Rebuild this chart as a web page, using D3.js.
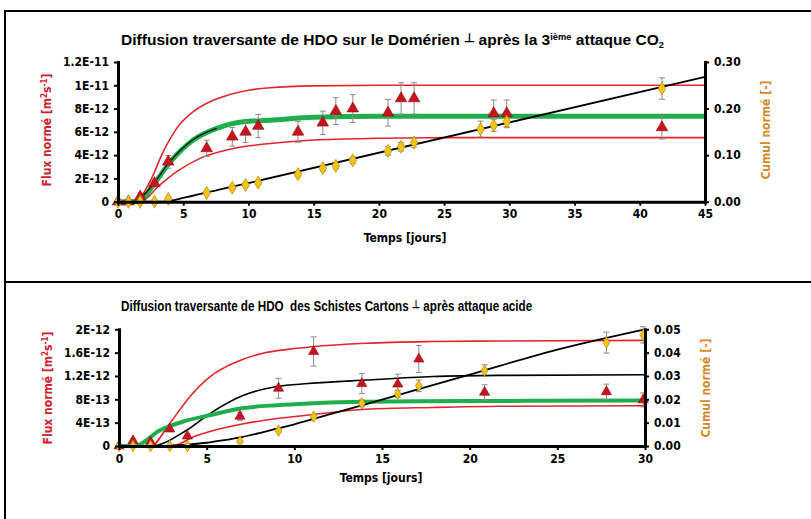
<!DOCTYPE html>
<html>
<head>
<meta charset="utf-8">
<script src="https://cdn.jsdelivr.net/npm/d3@7"></script>
<style>
body { margin: 0; background: #fff; }
svg text { font-family: 'Liberation Sans Narrow', 'DejaVu Sans Condensed', 'Arial Narrow', sans-serif; font-weight: bold; }
</style>
</head>
<body>
<script>
// ---- panel 1 : Domérien, 3e attaque CO2 (flux in units of 1E-12 m2/s) ----
var triDays1 = [0, 0.8, 1.7, 2.8, 3.85, 6.8, 8.76, 9.78, 10.75, 13.8, 15.7, 16.7, 18.0, 20.7, 21.7, 22.7, 28.8, 29.8, 41.7];
var flux1 = [0, 0, 0.43, 1.58, 3.43, 4.58, 5.58, 6.0, 6.5, 6.0, 6.78, 7.78, 8.0, 7.64, 8.87, 8.87, 7.59, 7.59, 6.38];
var fluxErr1 = [0, 0, 0.1, 0.3, 0.55, 0.7, 0.8, 0.9, 1.0, 0.9, 1.0, 1.15, 1.2, 1.15, 1.35, 1.35, 1.15, 1.15, 1.0];
var diaDays1 = [0, 0.8, 1.7, 2.8, 3.85, 6.8, 8.76, 9.78, 10.75, 13.8, 15.7, 16.7, 18.0, 20.7, 21.7, 22.7, 27.8, 28.8, 29.8, 41.7];
var cumul1 = [0, 0, 0, 0, 0.006, 0.019, 0.030, 0.036, 0.041, 0.059, 0.072, 0.077, 0.089, 0.109, 0.118, 0.127, 0.156, 0.164, 0.172, 0.243];
var cumulErr1 = [0, 0, 0, 0, 0.002, 0.003, 0.004, 0.004, 0.004, 0.005, 0.006, 0.006, 0.007, 0.009, 0.009, 0.01, 0.017, 0.013, 0.013, 0.023];

// model curves
var redHiDays1 = [0, 1.3, 2.45, 3.47, 4.5, 5.77, 7.05, 8.58, 10.1, 11.65, 15, 20, 30, 45];
var redHi1 = [0, 0, 1.72, 4.3, 6.3, 7.73, 8.58, 9.2, 9.59, 9.79, 9.95, 10.0, 10.0, 10.0];
var redLoDays1 = [0, 1.7, 3.2, 4.5, 6.28, 8.33, 10.1, 11.65, 15, 20, 25, 45];
var redLo1 = [0, 0, 1.43, 2.58, 3.72, 4.44, 4.8, 5.0, 5.3, 5.45, 5.5, 5.5];
var greenDays1 = [0, 1.55, 2.7, 3.98, 5.77, 7.56, 9.6, 11.65, 15, 20, 45];
var green1 = [0, 0, 1.43, 3.38, 5.3, 6.3, 6.87, 7.0, 7.25, 7.35, 7.35];
var blackFluxDays1 = [1.5, 2.7, 3.98, 5.77, 7.56];
var blackFlux1 = [0, 1.5, 3.45, 5.35, 6.3];
var blackCumDays1 = [0, 3, 4, 5, 6, 7, 8, 10, 45];
var blackCum1 = [0, 0, 0.002, 0.008, 0.0145, 0.021, 0.0275, 0.040, 0.268];

var xTicks1 = [0, 5, 10, 15, 20, 25, 30, 35, 40, 45];
var fluxTicks1 = [0, 2, 4, 6, 8, 10, 12];
var fluxLabels1 = ["0", "2E-12", "4E-12", "6E-12", "8E-12", "1E-11", "1.2E-11"];
var cumTicks1 = [0, 0.1, 0.2, 0.3];
var cumLabels1 = ["0.00", "0.10", "0.20", "0.30"];

// ---- panel 2 : Schistes Cartons, attaque acide ----
var triDays2 = [0, 0.8, 1.8, 2.9, 3.9, 6.9, 9.1, 11.1, 13.85, 15.9, 17.1, 20.85, 27.8, 29.9];
var flux2 = [0, 0.09, 0.07, 0.29, 0.17, 0.51, 0.99, 1.62, 1.07, 1.06, 1.49, 0.92, 0.93, 0.79];
var fluxErr2 = [0, 0.03, 0.03, 0.04, 0.04, 0.07, 0.17, 0.25, 0.17, 0.17, 0.23, 0.13, 0.13, 0.12];
var diaDays2 = [0, 0.8, 1.8, 2.9, 3.9, 6.9, 9.1, 11.1, 13.85, 15.9, 17.1, 20.85, 27.8, 29.9];
var cumul2 = [0, 0, 0, 0, 0, 0.0019, 0.0066, 0.0126, 0.0183, 0.0223, 0.0258, 0.0323, 0.0443, 0.0476];
var cumulErr2 = [0, 0, 0, 0, 0, 0.0003, 0.0006, 0.0008, 0.0015, 0.0015, 0.0025, 0.0025, 0.0045, 0.0035];

var redHiDays2 = [0, 1.8, 2.9, 4.05, 5.2, 6.7, 8.2, 9.75, 11, 14.1, 17.9, 21.7, 30];
var redHi2 = [0, 0, 0.39, 0.85, 1.19, 1.44, 1.59, 1.66, 1.70, 1.76, 1.79, 1.80, 1.81];
var redLoDays2 = [0, 2.5, 3.3, 4.25, 5.2, 7.1, 9.0, 10.8, 14.1, 17.9, 21.7, 30];
var redLo2 = [0, 0, 0.02, 0.16, 0.25, 0.38, 0.47, 0.53, 0.63, 0.66, 0.68, 0.69];
var greenDays2 = [0, 0.9, 2.34, 3.67, 5.2, 7.1, 9.0, 10.8, 14.1, 20, 30];
var green2 = [0, 0, 0.27, 0.42, 0.53, 0.65, 0.70, 0.73, 0.76, 0.77, 0.78];
var blackFluxDays2 = [0, 1.8, 3.85, 5.2, 7.1, 9.0, 10.8, 14.1, 17.9, 21.7, 30];
var blackFlux2 = [0, 0, 0.27, 0.56, 0.87, 1.02, 1.07, 1.13, 1.19, 1.21, 1.22];
var blackCumDays2 = [0, 2, 3, 4, 5, 6, 7, 8, 9, 10, 12, 15, 20, 25, 30];
var blackCum2 = [0, 0, 0.0002, 0.0007, 0.0014, 0.0025, 0.0038, 0.0055, 0.0074, 0.0093, 0.0135, 0.0199, 0.0306, 0.0413, 0.0500];

var xTicks2 = [0, 5, 10, 15, 20, 25, 30];
var fluxTicks2 = [0, 0.4, 0.8, 1.2, 1.6, 2.0];
var fluxLabels2 = ["0", "4E-13", "8E-13", "1.2E-12", "1.6E-12", "2E-12"];
var cumTicks2 = [0, 0.01, 0.02, 0.03, 0.04, 0.05];
var cumLabels2 = ["0.00", "0.01", "0.02", "0.03", "0.04", "0.05"];

var RED = "#e3262b", GREEN = "#1fae4b", YELLOW = "#f2c318", ORANGE = "#d4892a";
var TITLEFONT = "'Liberation Sans', Arial, sans-serif";

var svg = d3.select("body").append("svg")
  .attr("width", 811)
  .attr("height", 519);

// frame
svg.append("path")
  .attr("d", "M5,519 V11 H811 M5,282 H811")
  .attr("fill", "none")
  .attr("stroke", "#000")
  .attr("stroke-width", 2);

function zip(a, b) { return a.map(function(d, i) { return [d, b[i]]; }); }

// squeeze a text horizontally so that it spans x0..x1 (narrow font look)
function fit(sel, x0, x1) {
  var bb = sel.node().getBBox();
  var sx = (x1 - x0) / bb.width;
  sel.attr("transform", "translate(" + x0 + ",0) scale(" + sx + ",1) translate(" + (-bb.x) + ",0)");
}

function drawPanel(p) {
  var g = svg.append("g");
  var x = d3.scaleLinear().domain([0, p.xMax]).range([p.left, p.right]);
  var yL = d3.scaleLinear().domain([0, p.fluxMax]).range([p.bottom, p.top]);
  var yR = d3.scaleLinear().domain([0, p.cumMax]).range([p.bottom, p.top]);

  var lineL = d3.line().x(function(d) { return x(d[0]); }).y(function(d) { return yL(d[1]); }).curve(d3.curveMonotoneX);
  var lineR = d3.line().x(function(d) { return x(d[0]); }).y(function(d) { return yR(d[1]); }).curve(d3.curveMonotoneX);

  g.append("path").attr("d", lineL(zip(p.redHiDays, p.redHi))).attr("fill", "none").attr("stroke", RED).attr("stroke-width", 1.6);
  g.append("path").attr("d", lineL(zip(p.redLoDays, p.redLo))).attr("fill", "none").attr("stroke", RED).attr("stroke-width", 1.6);
  if (p.blackUnder) {
    g.append("path").attr("d", lineL(zip(p.blackFluxDays, p.blackFlux))).attr("fill", "none").attr("stroke", "#000").attr("stroke-width", 1.6);
  }
  g.append("path").attr("d", lineL(zip(p.greenDays, p.green))).attr("fill", "none").attr("stroke", GREEN).attr("stroke-width", p.greenW);
  if (!p.blackUnder) {
    g.append("path").attr("d", lineL(zip(p.blackFluxDays, p.blackFlux))).attr("fill", "none").attr("stroke", "#111").attr("stroke-width", 1.3);
  }
  g.append("path").attr("d", lineR(zip(p.blackCumDays, p.blackCum))).attr("fill", "none").attr("stroke", "#000").attr("stroke-width", 1.8);

  // error bars
  function errBars(days, vals, errs, y) {
    var eb = g.append("g").attr("stroke", "#8c8c8c").attr("stroke-width", 1);
    days.forEach(function(d, i) {
      if (!errs[i]) return;
      var cx = x(d), y1 = y(vals[i] + errs[i]), y0 = y(vals[i] - errs[i]);
      eb.append("line").attr("x1", cx).attr("x2", cx).attr("y1", y1).attr("y2", y0);
      eb.append("line").attr("x1", cx - 3).attr("x2", cx + 3).attr("y1", y1).attr("y2", y1);
      eb.append("line").attr("x1", cx - 3).attr("x2", cx + 3).attr("y1", y0).attr("y2", y0);
    });
  }
  errBars(p.triDays, p.flux, p.fluxErr, yL);
  errBars(p.diaDays, p.cumul, p.cumulErr, yR);

  g.selectAll(".tri").data(zip(p.triDays, p.flux)).enter().append("path")
    .attr("transform", function(d) { return "translate(" + x(d[0]) + "," + yL(d[1]) + ")"; })
    .attr("d", d3.symbol().type(d3.symbolTriangle).size(p.mk))
    .attr("fill", "#c8141e").attr("stroke", "#8a0d12").attr("stroke-width", 0.6);
  g.selectAll(".dia").data(zip(p.diaDays, p.cumul)).enter().append("path")
    .attr("transform", function(d) { return "translate(" + x(d[0]) + "," + yR(d[1]) + ")"; })
    .attr("d", d3.symbol().type(d3.symbolDiamond).size(p.mk * 0.85))
    .attr("fill", YELLOW).attr("stroke", "#b8860b").attr("stroke-width", 0.7);

  // axes
  var ax = g.append("g").attr("transform", "translate(0," + p.bottom + ")")
    .call(d3.axisBottom(x).tickValues(p.xTicks).tickSize(4).tickSizeOuter(0).tickPadding(4));
  var al = g.append("g").attr("transform", "translate(" + p.left + ",0)")
    .call(d3.axisLeft(yL).tickValues(p.fluxTicks).tickFormat(function(d, i) { return p.fluxLabels[i]; }).tickSize(4).tickSizeOuter(0).tickPadding(5));
  var ar = g.append("g").attr("transform", "translate(" + p.right + ",0)")
    .call(d3.axisRight(yR).tickValues(p.cumTicks).tickFormat(function(d, i) { return p.cumLabels[i]; }).tickSize(4).tickSizeOuter(0).tickPadding(5));
  [ax, al, ar].forEach(function(a) {
    a.select(".domain").attr("stroke-width", 3).attr("stroke-linecap", "square");
    a.selectAll(".tick line").attr("stroke-width", 2);
    a.selectAll("text").attr("font-size", 12).attr("fill", "#000")
      .style("font-family", "'Liberation Sans Narrow','DejaVu Sans Condensed',sans-serif");
  });

  g.append("text").attr("x", p.xLabelX).attr("y", p.xLabelY).attr("text-anchor", "middle")
    .attr("font-size", 12).text("Temps [jours]");

  var lab = g.append("text").attr("text-anchor", "middle").attr("font-size", 12).attr("fill", "#d0202a")
    .attr("transform", "translate(" + p.lLabX + "," + p.labY + ") rotate(-90)");
  lab.append("tspan").text("Flux normé [m");
  lab.append("tspan").attr("font-size", 8).attr("dy", -4).text("2");
  lab.append("tspan").attr("dy", 4).text("s");
  lab.append("tspan").attr("font-size", 8).attr("dy", -4).text("-1");
  lab.append("tspan").attr("dy", 4).text("]");

  g.append("text").attr("text-anchor", "middle").attr("font-size", 12).attr("fill", ORANGE)
    .attr("transform", "translate(" + p.rLabX + "," + p.labY + ") rotate(-90)")
    .text("Cumul normé [-]");
}

drawPanel({
  left: 118, right: 705, top: 62, bottom: 201.7, xMax: 45, fluxMax: 12, cumMax: 0.3,
  triDays: triDays1, flux: flux1, fluxErr: fluxErr1, diaDays: diaDays1, cumul: cumul1, cumulErr: cumulErr1,
  redHiDays: redHiDays1, redHi: redHi1, redLoDays: redLoDays1, redLo: redLo1,
  greenDays: greenDays1, green: green1, greenW: 5,
  blackFluxDays: blackFluxDays1, blackFlux: blackFlux1, blackUnder: false,
  blackCumDays: blackCumDays1, blackCum: blackCum1,
  xTicks: xTicks1, fluxTicks: fluxTicks1, fluxLabels: fluxLabels1, cumTicks: cumTicks1, cumLabels: cumLabels1,
  mk: 58, xLabelX: 405, xLabelY: 242, lLabX: 51, rLabX: 770, labY: 130
});

drawPanel({
  left: 119, right: 645, top: 329.3, bottom: 446, xMax: 30, fluxMax: 2, cumMax: 0.05,
  triDays: triDays2, flux: flux2, fluxErr: fluxErr2, diaDays: diaDays2, cumul: cumul2, cumulErr: cumulErr2,
  redHiDays: redHiDays2, redHi: redHi2, redLoDays: redLoDays2, redLo: redLo2,
  greenDays: greenDays2, green: green2, greenW: 4,
  blackFluxDays: blackFluxDays2, blackFlux: blackFlux2, blackUnder: true,
  blackCumDays: blackCumDays2, blackCum: blackCum2,
  xTicks: xTicks2, fluxTicks: fluxTicks2, fluxLabels: fluxLabels2, cumTicks: cumTicks2, cumLabels: cumLabels2,
  mk: 45, xLabelX: 381, xLabelY: 482, lLabX: 52, rLabX: 710, labY: 388
});

// titles
var t1 = svg.append("text").attr("x", 0).attr("y", 45).attr("font-size", 15)
  .style("font-family", TITLEFONT);
t1.append("tspan").text("Diffusion traversante de HDO sur le Domérien ");
t1.append("tspan").attr("font-size", 12).attr("dy", -3).text("\u22A5");
t1.append("tspan").attr("dy", 3).text(" après la 3");
t1.append("tspan").attr("font-size", 9).attr("dy", -5).text("ième");
t1.append("tspan").attr("dy", 5).text(" attaque CO");
t1.append("tspan").attr("font-size", 9).attr("dy", 3).text("2");
fit(t1, 121, 665);

var t2 = svg.append("text").attr("x", 0).attr("y", 311).attr("font-size", 14)
  .style("font-family", TITLEFONT).style("white-space", "pre");
t2.append("tspan").text("Diffusion traversante de HDO  des Schistes Cartons ");
t2.append("tspan").attr("font-size", 11).attr("dy", -3).text("\u22A5");
t2.append("tspan").attr("dy", 3).text(" après attaque acide");
fit(t2, 121, 533);
</script>
</body>
</html>
